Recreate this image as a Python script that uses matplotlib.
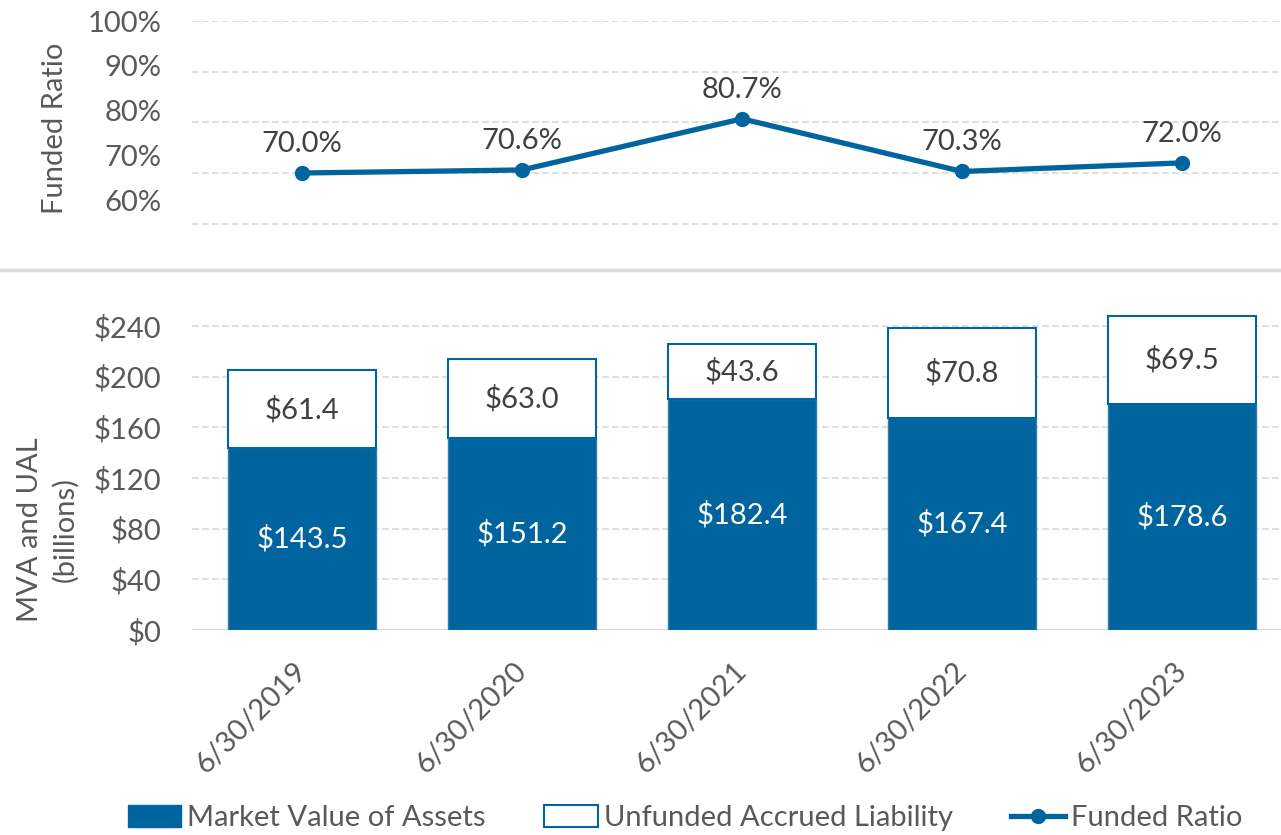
import matplotlib
matplotlib.use("Agg")
import matplotlib.pyplot as plt
import matplotlib.transforms as mtrans
from matplotlib.patches import Patch
from matplotlib.lines import Line2D

fechas = ["6/30/2019", "6/30/2020", "6/30/2021", "6/30/2022", "6/30/2023"]
mva = [143.5, 151.2, 182.4, 167.4, 178.6]
ual = [61.4, 63.0, 43.6, 70.8, 69.5]
funded = [70.0, 70.6, 80.7, 70.3, 72.0]

azul = "#00649f"
gris_txt = "#595959"
gris_dato = "#404040"
gris_grid = "#d9d9d9"

plt.rcParams["font.family"] = ["Lato", "DejaVu Sans"]
fs = 21

fig = plt.figure(figsize=(12.81, 8.35), dpi=100)
W, H = 1281, 835

def caja(x0, y0, x1, y1):
    # pixeles (arriba-izquierda) a fracciones de la figura
    return [x0 / W, 1 - y1 / H, (x1 - x0) / W, (y1 - y0) / H]

x = list(range(len(fechas)))

# Panel superior: funded ratio
ax1 = fig.add_axes(caja(192, 21, 1281, 249))
ax1.plot(x, funded, color=azul, lw=3.8, marker="o", ms=10, solid_capstyle="round")
for xi, v in zip(x, funded):
    ax1.annotate(f"{v:.1f}%", (xi, v), xytext=(0, 21), textcoords="offset points",
                 ha="center", va="center", fontsize=fs, color=gris_dato)
ax1.set_xlim(-0.5, 4.45)
ax1.set_ylim(55, 100)
# rejilla en los valores reales
for g in [60, 70, 80, 90, 100]:
    ax1.axhline(g, color=gris_grid, lw=1.2, ls=(0, (4, 2)), zorder=0)
# las etiquetas del eje quedan algo desplazadas como en el original
ax1.set_yticks([100 - i * 8.87 for i in range(5)])
ax1.set_yticklabels(["100%", "90%", "80%", "70%", "60%"], fontsize=fs, color=gris_txt)
ax1.tick_params(axis="y", length=0, pad=22)
ax1.set_xticks([])
for s in ax1.spines.values():
    s.set_visible(False)
fig.text(55 / W, 1 - 128 / H, "Funded Ratio", rotation=90, ha="center", va="center",
         fontsize=fs, color=gris_txt)

# separador entre graficos
fig.add_artist(Line2D([0, 1], [1 - 270 / H, 1 - 270 / H], color=gris_grid, lw=2.5,
                      transform=fig.transFigure))

# Panel inferior: barras apiladas
ax2 = fig.add_axes(caja(192, 300.7, 1281, 630))
b1 = ax2.bar(x, mva, width=0.67, color=azul, edgecolor="#2f7fb3", lw=1, zorder=2)
b2 = ax2.bar(x, ual, width=0.67, bottom=mva, color="white", edgecolor=azul, lw=1.5, zorder=2)
ax2.bar_label(b1, labels=[f"${v:.1f}" for v in mva], label_type="center",
              fontsize=fs, color="white")
ax2.bar_label(b2, labels=[f"${v:.1f}" for v in ual], label_type="center",
              fontsize=fs, color=gris_dato)
ax2.set_xlim(-0.5, 4.45)
ax2.set_ylim(0, 260)
ax2.set_yticks(range(0, 241, 40))
ax2.set_yticklabels([f"${v}" for v in range(0, 241, 40)], fontsize=fs, color=gris_txt)
ax2.yaxis.grid(True, color=gris_grid, lw=1.2, ls=(0, (4, 2)), zorder=0)
ax2.set_axisbelow(True)
ax2.tick_params(axis="y", length=0, pad=22)
ax2.set_xticks(x)
ax2.set_xticklabels(fechas, rotation=45, ha="right", rotation_mode="anchor",
                    fontsize=fs, color=gris_txt)
ax2.tick_params(axis="x", length=0, pad=16)
# pequeño desplazamiento de las fechas hacia la izquierda y abajo
desp = mtrans.ScaledTranslation(-9 / 100, -5 / 100, fig.dpi_scale_trans)
for lab in ax2.get_xticklabels():
    lab.set_transform(lab.get_transform() + desp)
for s in ax2.spines.values():
    s.set_visible(False)
ax2.axhline(0, color=gris_grid, lw=1.5, zorder=1)
fig.text(48 / W, 1 - 530 / H, "MVA and UAL\n(billions)", rotation=90, ha="center",
         va="center", fontsize=fs, color=gris_txt, linespacing=1.4)

# Leyenda
handles = [
    Patch(facecolor=azul, edgecolor=azul, label="Market Value of Assets"),
    Patch(facecolor="white", edgecolor=azul, lw=1.5, label="Unfunded Accrued Liability"),
    Line2D([0], [0], color=azul, lw=3.8, marker="o", ms=10, label="Funded Ratio"),
]
fig.legend(handles=handles, loc="center", bbox_to_anchor=(685 / W, 1 - 818 / H), ncol=3,
           frameon=False, fontsize=fs, labelcolor=gris_txt, handlelength=1.85,
           handleheight=0.75, handletextpad=0.2, columnspacing=2.0)

fig.savefig("out.png", dpi=100)
